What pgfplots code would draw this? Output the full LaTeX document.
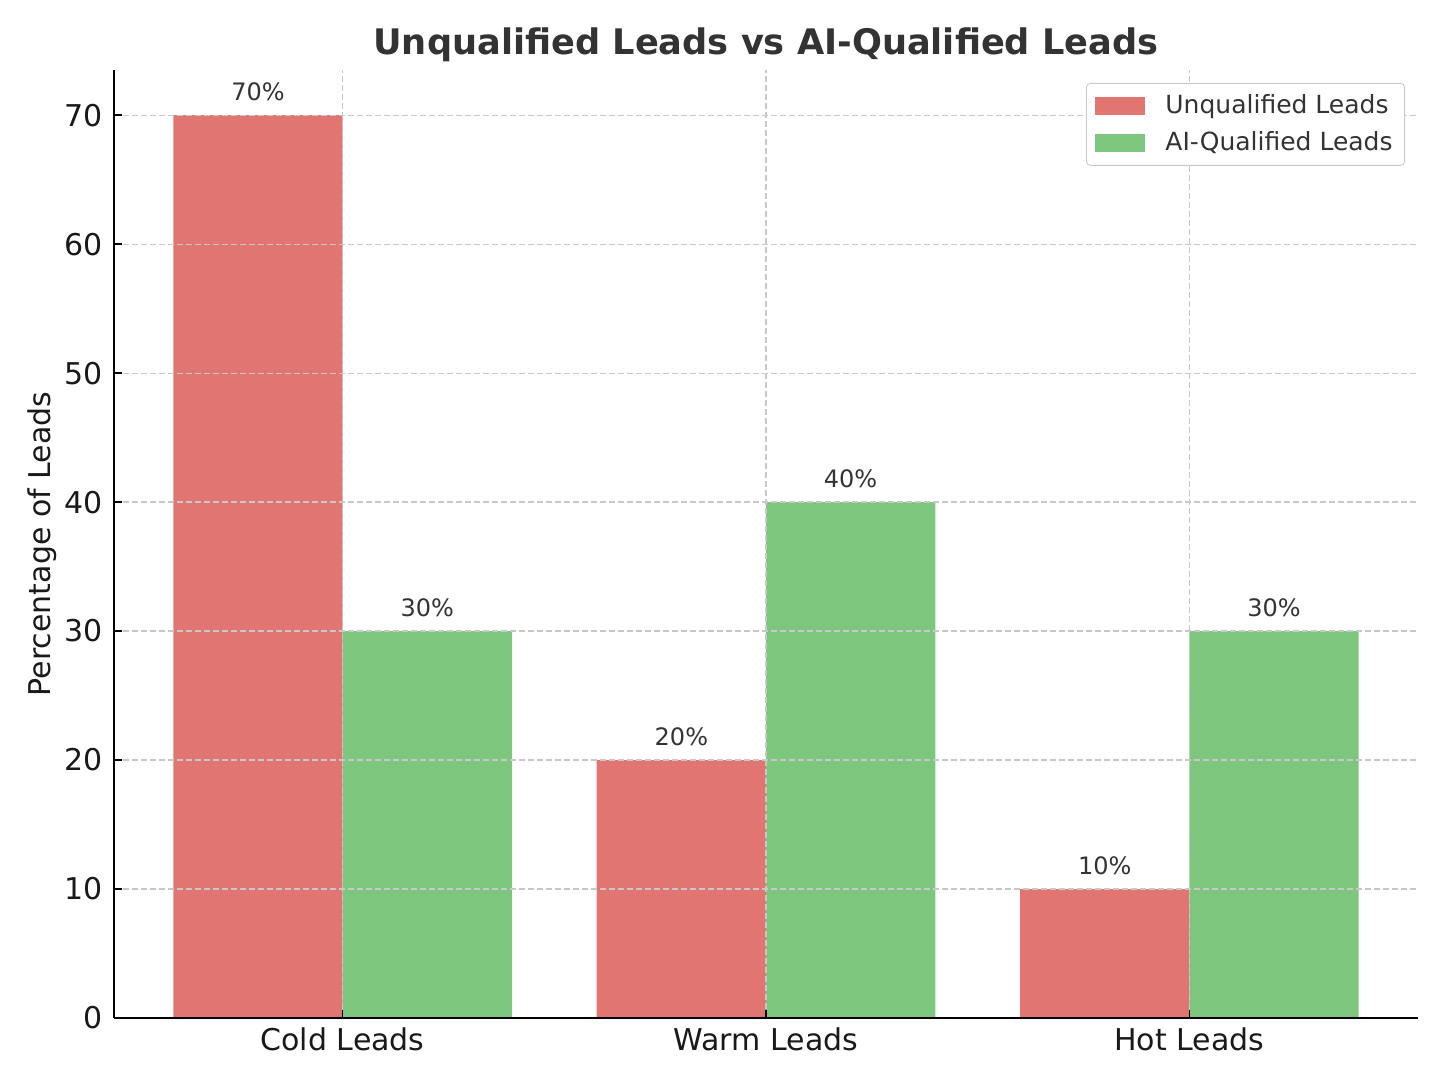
\documentclass[border=0pt]{standalone}
\usepackage{fontspec}
\setmainfont{DejaVu Sans}
\usepackage{pgfplots}
\pgfplotsset{compat=1.18}

\definecolor{barred}{HTML}{E17572}
\definecolor{bargreen}{HTML}{7DC67D}
\definecolor{txt}{HTML}{333333}
\definecolor{gridc}{HTML}{C8C8C8}

\begin{document}
\begin{tikzpicture}
\path[use as bounding box] (-57pt,-33pt) rectangle (665.5pt,509pt);
\begin{axis}[
    at={(0,0)}, anchor=south west,
    scale only axis,
    width=652pt, height=474pt,
    xmin=-0.54, xmax=2.54,
    ymin=0, ymax=73.5,
    axis x line*=bottom,
    axis y line*=left,
    axis line style={line width=0.8pt, black},
    axis on top,
    tick align=inside,
    major tick length=4pt,
    tick style={line width=0.8pt, black},
    xtick={0,1,2},
    xticklabels={Cold Leads, Warm Leads, Hot Leads},
    ytick={0,10,...,70},
    grid=major,
    grid style={gridc, line width=0.6pt, dash pattern=on 3pt off 1.5pt},
    /pgf/number format/assume math mode=true,
    tick label style={font=\fontsize{15}{18}\selectfont, text=black!90, inner sep=0pt},
    yticklabel shift=5.5pt,
    xticklabel shift=4.5pt,
    ylabel={Percentage of Leads},
    every axis y label/.style={at={(axis description cs:-0.0437,0.5)}, rotate=90, anchor=south, inner sep=0pt},
    label style={font=\fontsize{15}{18}\selectfont, text=black!90},
    title={Unqualified Leads vs AI-Qualified Leads},
    title style={font=\fontsize{17.6}{21}\selectfont\bfseries, text=txt, at={(axis description cs:0.5,1)}, anchor=base, yshift=1.5pt},
    legend cell align=left,
    legend style={
        at={(1,1)}, anchor=north east, xshift=-6.5pt, yshift=-6.5pt,
        draw=gridc, rounded corners=2pt, fill=white,
        font=\fontsize{12.5}{15}\selectfont, text=txt,
        inner xsep=4.5pt, inner ysep=4pt, row sep=4pt,
        nodes={inner sep=1.5pt, text depth=0.2em},
    },
    clip=false,
]
% Unqualified leads
\addplot[ybar, bar width=0.4, bar shift=-0.2, fill=barred, draw=none,
    legend image code/.code={\fill[barred, sharp corners] (0pt,-4.5pt) rectangle (25pt,4.5pt); \path (33.5pt,0pt);},
    nodes near coords={\pgfmathprintnumber[fixed,precision=0]{\pgfplotspointmeta}\%},
    every node near coord/.append style={font=\fontsize{12}{14}\selectfont, text=txt, inner sep=0pt, yshift=7pt, xshift=-42.3pt}]
coordinates {(0,70) (1,20) (2,10)};
\addlegendentry{Unqualified Leads}

% AI-qualified leads
\addplot[ybar, bar width=0.4, bar shift=0.2, fill=bargreen, draw=none,
    legend image code/.code={\fill[bargreen, sharp corners] (0pt,-4.5pt) rectangle (25pt,4.5pt); \path (33.5pt,0pt);},
    nodes near coords={\pgfmathprintnumber[fixed,precision=0]{\pgfplotspointmeta}\%},
    every node near coord/.append style={font=\fontsize{12}{14}\selectfont, text=txt, inner sep=0pt, yshift=7pt, xshift=42.3pt}]
coordinates {(0,30) (1,40) (2,30)};
\addlegendentry{AI-Qualified Leads}
\end{axis}
\end{tikzpicture}
\end{document}
